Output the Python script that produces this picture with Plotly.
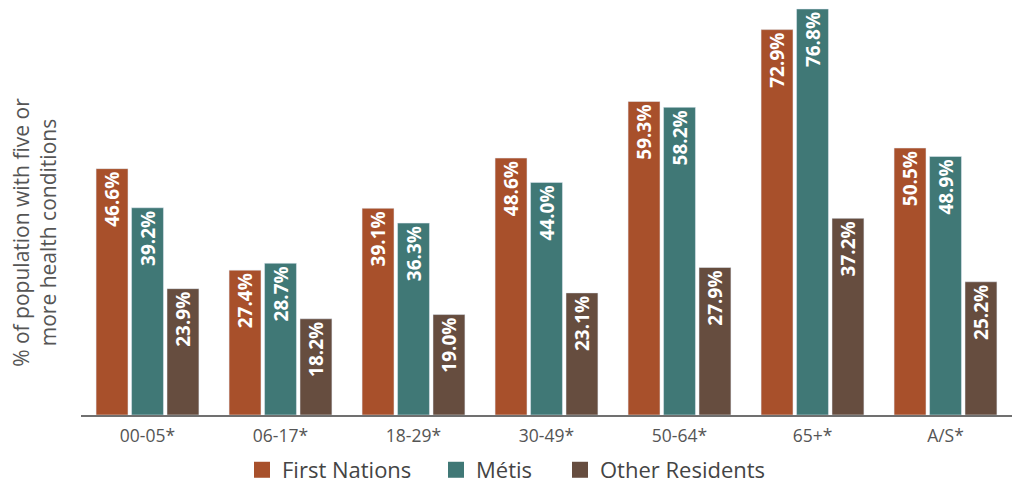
import plotly.graph_objects as go

categories = ["00-05*", "06-17*", "18-29*", "30-49*", "50-64*", "65+*", "A/S*"]
first_nations = [46.6, 27.4, 39.1, 48.6, 59.3, 72.9, 50.5]
metis = [39.2, 28.7, 36.3, 44.0, 58.2, 76.8, 48.9]
other_residents = [23.9, 18.2, 19.0, 23.1, 27.9, 37.2, 25.2]

series = [
    ("First Nations", first_nations, "#A8502B"),
    ("Métis", metis, "#407876"),
    ("Other Residents", other_residents, "#664D3F"),
]
legend_ids = ["legend", "legend2", "legend3"]
legend_x = [242, 436, 560]

fig = go.Figure()
for name, vals, color in series:
    fig.add_trace(go.Bar(
        x=categories, y=vals, name=name, marker_color=color,
        text=[f"{v:.1f}%" for v in vals], textposition="inside",
        insidetextanchor="end", textangle=-90,
        textfont=dict(family="Open Sans", size=19, color="white", weight="bold"),
        hoverinfo="skip", showlegend=False,
    ))
for (name, vals, color), lid in zip(series, legend_ids):
    fig.add_trace(go.Scatter(
        x=[None], y=[None], mode="markers", name=name, legend=lid,
        marker=dict(symbol="square", size=19, color=color),
        hoverinfo="skip", showlegend=True,
    ))

legend_common = dict(orientation="h", xanchor="left", xref="container",
                     y=0.031, yanchor="middle", yref="container",
                     font=dict(size=22, color="#444444"), bgcolor="rgba(0,0,0,0)")

fig.update_layout(
    width=1015, height=485,
    margin=dict(l=81, r=3, t=0, b=70),
    paper_bgcolor="white", plot_bgcolor="white",
    barmode="group", bargap=0.2, bargroupgap=0.1,
    font=dict(family="Open Sans", color="#555555"),
    uniformtext=dict(minsize=19, mode="show"),
    showlegend=True,
    legend=dict(x=legend_x[0] / 1015, **legend_common),
    legend2=dict(x=legend_x[1] / 1015, **legend_common),
    legend3=dict(x=legend_x[2] / 1015, **legend_common),
    xaxis=dict(showline=True, linecolor="#707070", linewidth=2, ticks="",
               tickfont=dict(size=17.5, color="#555555"), showgrid=False,
               automargin=False, ticklabelstandoff=4),
    yaxis=dict(range=[0, 78.5], showticklabels=False, showgrid=False, zeroline=False,
               showline=False, automargin=False),
    annotations=[dict(
        text="% of population with five or<br>more health conditions",
        x=-0.05, y=0.44, xref="paper", yref="paper", textangle=-90,
        showarrow=False, font=dict(size=21, color="#555555"),
        xanchor="center", yanchor="middle",
    )],
)

fig.write_html("out.html", config={"displayModeBar": False},
               post_script="document.body.style.margin='0px';")
